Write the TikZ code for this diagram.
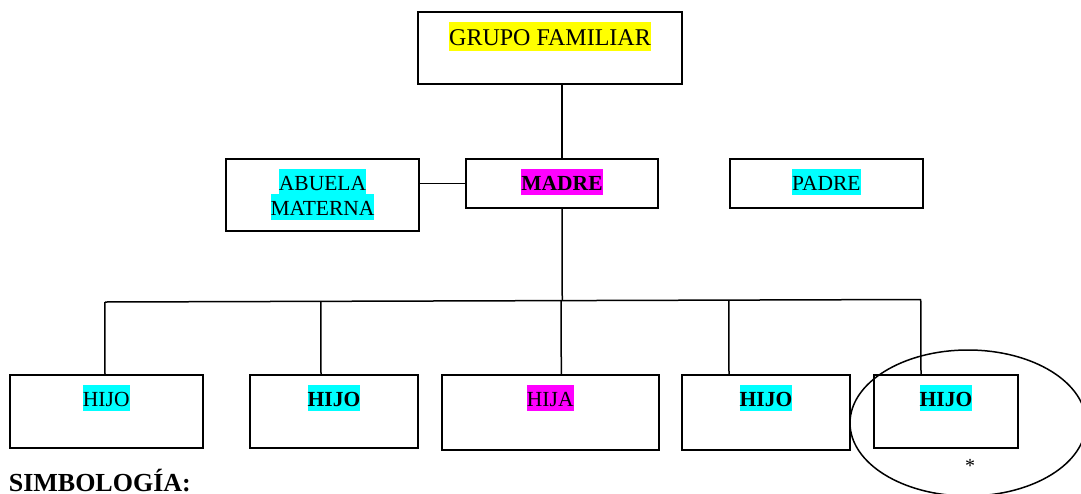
\documentclass[tikz,border=0pt]{standalone}
\usepackage{fontspec}
\setmainfont{Liberation Serif}
\usetikzlibrary{calc,shapes.geometric}
\definecolor{hyellow}{RGB}{255,255,0}
\definecolor{hcyan}{RGB}{0,255,255}
\definecolor{hmagenta}{RGB}{255,0,255}
\tikzset{
  box/.style={draw, line width=2pt, inner sep=0pt, anchor=north west},
  conn/.style={line width=1.5pt},
  hl/.style={inner xsep=0pt, inner ysep=0pt, text height=21.5pt, text depth=4.3pt, anchor=north},
  mid/.style={font=\fontsize{21.5pt}{25pt}\selectfont},
  midb/.style={font=\fontsize{21.5pt}{25pt}\selectfont\bfseries},
  big/.style={font=\fontsize{24pt}{29pt}\selectfont, text height=24pt, text depth=5pt},
}
\begin{document}
\begin{tikzpicture}[x=1pt,y=-1pt]
\useasboundingbox (0,0) rectangle (1081,493);
% boxes
\node[box, minimum width=264pt, minimum height=72pt] (gf) at (417,11) {};
\node[box, minimum width=193pt, minimum height=72pt] (abuela) at (225,158) {};
\node[box, minimum width=192pt, minimum height=48.5pt] (madre) at (465,158) {};
\node[box, minimum width=192.5pt, minimum height=48.5pt] (padre) at (729,158) {};
\node[box, minimum width=192.5pt, minimum height=72.5pt] (h1) at (9,374) {};
\node[box, minimum width=168pt, minimum height=72.5pt] (h2) at (249,374) {};
\node[box, minimum width=216.5pt, minimum height=75pt] (h3) at (441,374) {};
\node[box, minimum width=168pt, minimum height=75pt] (h4) at (681,374) {};
\node[box, minimum width=144pt, minimum height=72.5pt] (h5) at (873,374) {};
% labels
\node[hl, big, fill=hyellow] (gft) at ($(gf.north)+(0,10.7)$) {GRUPO FAMILIAR};
\node[hl, mid, fill=hcyan] (abt1) at ($(abuela.north)+(0,11)$) {ABUELA};
\node[hl, mid, fill=hcyan] (abt2) at ($(abuela.north)+(0,35.5)$) {MATERNA};
\node[hl, midb, fill=hmagenta] (mat) at ($(madre.north)+(0,11)$) {MADRE};
\node[hl, mid, fill=hcyan] (pat) at ($(padre.north)+(0,11)$) {PADRE};
\node[hl, mid, fill=hcyan] (h1t) at ($(h1.north)+(0,11)$) {HIJO};
\node[hl, midb, fill=hcyan] (h2t) at ($(h2.north)+(0,11)$) {HIJO};
\node[hl, mid, fill=hmagenta] (h3t) at ($(h3.north)+(0,11)$) {HIJA};
\node[hl, midb, fill=hcyan] (h4t) at ($(h4.north)+(0,11)$) {HIJO};
\node[hl, midb, fill=hcyan] (h5t) at ($(h5.north)+(0,11)$) {HIJO};
% connectors
\coordinate (hl) at (105,302);
\coordinate (hr) at (921,299.5);
\draw[conn] (madre.north |- gf.south) -- (madre.north);
\draw[conn] (abuela.east |- madre.west) -- (madre.west);
\draw[conn] (hl) -- (hr);
\draw[conn] (madre.south) -- ($(hl)!(madre.south)!(hr)$);
\foreach \n/\xx in {h1/105,h2/321,h3/561.3,h4/729,h5/921}{
  \coordinate (\n top) at (\xx,374);
  \draw[conn] ($(hl)!(\n top)!(hr)$) -- (\n top);
}
% ellipse and asterisk
\node[draw, ellipse, line width=1.5pt, minimum width=236pt, minimum height=146pt, inner sep=0pt] (circ) at (968,423) {};
\node[font=\fontsize{20pt}{22pt}\selectfont, inner sep=0pt] (ast) at (970,465.5) {*};
% legend
\node[anchor=base west, inner sep=0pt, text depth=0pt, font=\fontsize{26pt}{30pt}\selectfont\bfseries] (simb) at (8.6,491.5) {SIMBOLOGÍA:};
\end{tikzpicture}
\end{document}
